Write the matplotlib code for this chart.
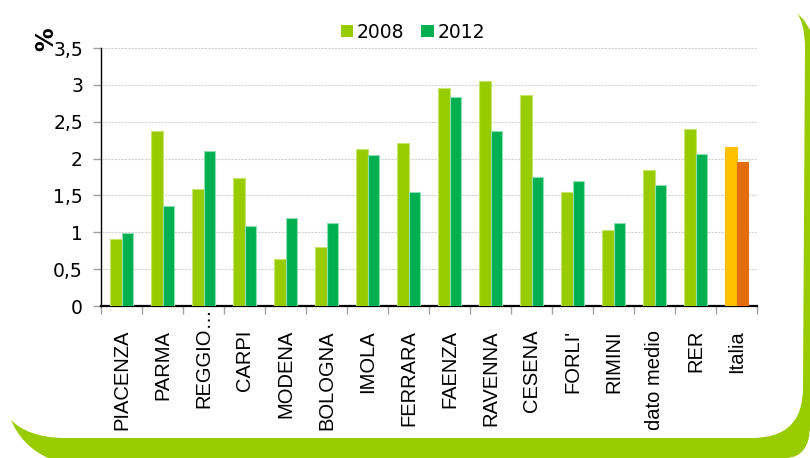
import numpy as np
import matplotlib
matplotlib.use("Agg")
import matplotlib.pyplot as plt
from matplotlib.patches import Patch, PathPatch
from matplotlib.path import Path
from matplotlib.transforms import blended_transform_factory

categories = ["PIACENZA", "PARMA", "REGGIO…", "CARPI", "MODENA", "BOLOGNA", "IMOLA",
              "FERRARA", "FAENZA", "RAVENNA", "CESENA", "FORLI'", "RIMINI",
              "dato medio", "RER", "Italia"]
values_2008 = [0.91, 2.37, 1.59, 1.73, 0.64, 0.80, 2.13, 2.21, 2.96, 3.05, 2.86,
               1.55, 1.03, 1.84, 2.40, 2.16]
values_2012 = [0.99, 1.36, 2.10, 1.08, 1.20, 1.13, 2.05, 1.55, 2.83, 2.37, 1.75,
               1.69, 1.13, 1.64, 2.06, 1.95]
series_names = ["2008", "2012"]
yticks = [0, 0.5, 1, 1.5, 2, 2.5, 3, 3.5]
ytick_labels = ["0", "0,5", "1", "1,5", "2", "2,5", "3", "3,5"]

W, H = 810, 458
C08, C12 = "#99CC00", "#00B050"
E08, E12 = "#C6E46E", "#8FDDB2"
IT08, IT12 = "#FFC000", "#E46C0A"

fig = plt.figure(figsize=(W / 100, H / 100), dpi=100)
fig.patch.set_facecolor("white")

def fx(x):
    return x / W

def fy(y):
    return 1 - y / H

# decorative green band (bottom and right)
pts = [((797, 13), Path.MOVETO), ((804, 20), Path.LINETO), ((810, 30), Path.LINETO),
       ((810, 425), Path.LINETO), ((810, 458), Path.CURVE3), ((785, 458), Path.CURVE3),
       ((48, 458), Path.LINETO), ((22, 446), Path.CURVE3), ((11, 420), Path.CURVE3),
       ((28, 437), Path.CURVE3), ((62, 438), Path.CURVE3),
       ((752, 438), Path.LINETO), ((803, 438), Path.CURVE3), ((803, 388), Path.CURVE3),
       ((805, 45), Path.LINETO), ((804, 22), Path.CURVE3), ((797, 13), Path.CURVE3),
       ((797, 13), Path.CLOSEPOLY)]
verts = [(fx(p[0]), fy(p[1])) for p, _ in pts]
codes = [c for _, c in pts]
fig.add_artist(PathPatch(Path(verts, codes), facecolor=C08, edgecolor="none",
                         transform=fig.transFigure, zorder=0))

ax = fig.add_axes([fx(101), fy(306), (757 - 101) / W, (306 - 48) / H])
ax.set_facecolor("none")

n = len(categories)
x = np.arange(n)
bw = 0.285
cols08 = [C08] * (n - 1) + [IT08]
cols12 = [C12] * (n - 1) + [IT12]
edg08 = [E08] * (n - 1) + [IT08]
edg12 = [E12] * (n - 1) + [IT12]
ax.bar(x - bw / 2, values_2008, width=bw, color=cols08, edgecolor=edg08, linewidth=0.8, zorder=3)
ax.bar(x + bw / 2, values_2012, width=bw, color=cols12, edgecolor=edg12, linewidth=0.8, zorder=3)

ax.set_xlim(-0.5, n - 0.5)
ax.set_ylim(0, 3.5)
ax.set_yticks(yticks)
ax.set_yticklabels(ytick_labels, fontsize=13.5, family="DejaVu Sans")
ax.yaxis.grid(True, color="#D4D4D4", linestyle=(0, (2, 1)), linewidth=0.8, zorder=0)
ax.set_axisbelow(True)
ax.tick_params(axis="y", length=6, width=1, color="#A0A0A0", pad=7)

ax.set_xticks(np.arange(n + 1) - 0.5)
ax.set_xticklabels([])
ax.tick_params(axis="x", length=6, width=1, color="#A0A0A0", direction="out")

for s in ["top", "right"]:
    ax.spines[s].set_visible(False)
ax.spines["left"].set_color("black")
ax.spines["left"].set_linewidth(1)
ax.spines["bottom"].set_color("black")
ax.spines["bottom"].set_linewidth(1.6)

tr = blended_transform_factory(ax.transData, ax.transAxes)
for i, lab in enumerate(categories):
    ytop = -24 / 258 if not lab.endswith("…") else -1.5 / 258
    ax.text(i, ytop, lab, rotation=90, ha="center", va="top", fontsize=14.5,
            family="Liberation Sans", transform=tr)

fig.text(fx(46), fy(39), "%", rotation=90, fontsize=17, fontweight="bold",
         ha="center", va="center", family="DejaVu Sans")

handles = [Patch(facecolor=C08, edgecolor="none"), Patch(facecolor=C12, edgecolor="none")]
fig.legend(handles, series_names, loc="center", bbox_to_anchor=(fx(413), fy(32)), ncol=2,
           frameon=False, handlelength=0.65, handleheight=0.6, handletextpad=0.2,
           columnspacing=0.9, prop={"family": "DejaVu Sans", "size": 13.5})

fig.savefig("out.png", dpi=100, facecolor="white")
